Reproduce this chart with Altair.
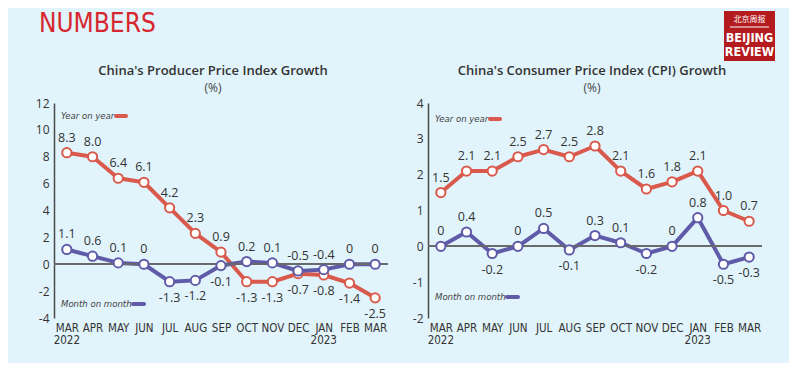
import altair as alt
import pandas as pd

# ---------------- data ----------------
periods = ["Mar 2022", "Apr 2022", "May 2022", "Jun 2022", "Jul 2022", "Aug 2022",
           "Sep 2022", "Oct 2022", "Nov 2022", "Dec 2022", "Jan 2023", "Feb 2023", "Mar 2023"]
month_labels = ["MAR", "APR", "MAY", "JUN", "JUL", "AUG", "SEP", "OCT", "NOV", "DEC", "JAN", "FEB", "MAR"]
year_labels = ["2022", "", "", "", "", "", "", "", "", "", "2023", "", ""]

ppi_yoy = [8.3, 8.0, 6.4, 6.1, 4.2, 2.3, 0.9, -1.3, -1.3, -0.7, -0.8, -1.4, -2.5]
ppi_mom = [1.1, 0.6, 0.1, 0, -1.3, -1.2, -0.1, 0.2, 0.1, -0.5, -0.4, 0, 0]
cpi_yoy = [1.5, 2.1, 2.1, 2.5, 2.7, 2.5, 2.8, 2.1, 1.6, 1.8, 2.1, 1.0, 0.7]
cpi_mom = [0, 0.4, -0.2, 0, 0.5, -0.1, 0.3, 0.1, -0.2, 0, 0.8, -0.5, -0.3]

# label side for each value: "up" = above the point, "down" = below
ppi_yoy_side = ["up"] * 7 + ["down"] * 6
ppi_mom_side = ["up", "up", "up", "up", "down", "down", "down", "up", "up", "up", "up", "up", "up"]
cpi_yoy_side = ["up"] * 13
cpi_mom_side = ["up", "up", "down", "up", "up", "down", "up", "up", "down", "up", "up", "down", "down"]

series_names = ["Year on year", "Month on month"]
series_colors = ["#D95A4C", "#5F5BA8"]

ppi_ticks = [-4, -2, 0, 2, 4, 6, 8, 10, 12]
cpi_ticks = [-2, -1, 0, 1, 2, 3, 4]

ppi_title = "China's Producer Price Index Growth"
cpi_title = "China's Consumer Price Index (CPI) Growth"
unit_label = "(%)"

# ---------------- style ----------------
BG = "#E1F3FB"
TXT = "#333333"
NARROW = "DejaVu Sans Condensed, sans-serif"
SANS = "Open Sans, Noto Sans, sans-serif"
W, H = 334, 215


def fmt(v):
    return "0" if v == 0 else f"{v:.1f}"


def make_df(yoy, mom, yoy_side, mom_side):
    rows = []
    for name, vals, side in ((series_names[0], yoy, yoy_side), (series_names[1], mom, mom_side)):
        for i, p in enumerate(periods):
            rows.append({"period": p, "idx": i, "year": year_labels[i], "series": name,
                         "v": vals[i], "lbl": fmt(vals[i]), "side": side[i]})
    return pd.DataFrame(rows)


def text_mark(txt, x, y, **kw):
    return alt.Chart(pd.DataFrame({"t": [txt]})).mark_text(**kw).encode(
        text="t:N", x=alt.value(x), y=alt.value(y))


def panel(df, domain, ticks, title, title_x, legend_top_y, legend_bot_y, top_dash, bot_dash):
    xs = alt.Scale(type="point", domain=periods, padding=0.5)
    ys = alt.Scale(domain=domain, nice=False, zero=False)
    color = alt.Color("series:N", scale=alt.Scale(domain=series_names, range=series_colors), legend=None)

    base = alt.Chart(df)
    x_enc = alt.X("period:N", scale=xs, sort=periods,
                  axis=alt.Axis(title=None, domain=False, ticks=False, labelAngle=0,
                                labelExpr="upper(substring(datum.value, 0, 3))",
                                labelFont=NARROW, labelFontSize=11.5, labelColor=TXT,
                                labelPadding=4, labelBaseline="top"))
    y_axis = alt.Axis(title=None, values=ticks, grid=False, ticks=False,
                      domain=True, domainColor="#4a4a4a", domainWidth=1.5,
                      labelExpr="toString(datum.value)",
                      labelOverlap=False, labelFlush=False,
                      labelFont=SANS, labelFontSize=12, labelColor=TXT,
                      labelPadding=5)
    y_enc = alt.Y("v:Q", scale=ys, axis=y_axis)

    lines = base.mark_line(strokeWidth=4, strokeJoin="round").encode(
        x=x_enc, y=y_enc, color=color, detail="series:N", order=alt.Order("idx:Q"))

    zero = base.mark_rule(color="#6b6b6b", strokeWidth=1).encode(
        y=alt.Y(datum=0, scale=ys, axis=y_axis), x=alt.value(0), x2=alt.value(W))

    points = base.mark_point(filled=True, fill="white", size=85, strokeWidth=2, opacity=1).encode(
        x=x_enc, y=y_enc,
        stroke=alt.Stroke("series:N", scale=alt.Scale(domain=series_names, range=series_colors), legend=None))

    up = base.transform_filter("datum.side == 'up'").mark_text(
        dy=-15, font=SANS, fontSize=12.5, color=TXT).encode(x=x_enc, y=y_enc, text="lbl:N")
    down = base.transform_filter("datum.side == 'down'").mark_text(
        dy=16, font=SANS, fontSize=12.5, color=TXT).encode(x=x_enc, y=y_enc, text="lbl:N")

    years = base.transform_filter("datum.year != '' && datum.series == 'Year on year'").mark_text(
        font=NARROW, fontSize=11.5, color=TXT, baseline="middle").encode(
        x=x_enc, y=alt.value(H + 23), text="year:N")

    leg_kw = dict(font=NARROW, fontSize=9.5, fontStyle="italic", color="#444", align="left", baseline="middle")
    leg_top = text_mark(series_names[0], 7, legend_top_y, **leg_kw)
    leg_bot = text_mark(series_names[1], 7, legend_bot_y, **leg_kw)
    dash_top = alt.Chart(pd.DataFrame({"t": [0]})).mark_rule(
        strokeWidth=4, strokeCap="round", color=series_colors[0]).encode(
        x=alt.value(top_dash[0]), x2=alt.value(top_dash[1]), y=alt.value(legend_top_y))
    dash_bot = alt.Chart(pd.DataFrame({"t": [0]})).mark_rule(
        strokeWidth=4, strokeCap="round", color=series_colors[1]).encode(
        x=alt.value(bot_dash[0]), x2=alt.value(bot_dash[1]), y=alt.value(legend_bot_y))

    t1 = text_mark(title, title_x, -32, font=SANS, fontSize=13, fontWeight=600, color=TXT, baseline="middle")
    t2 = text_mark(unit_label, title_x, -15, font=SANS, fontSize=12, color="#444", baseline="middle")

    return [lines, zero, points, up, down, years, leg_top, leg_bot, dash_top, dash_bot, t1, t2]


ppi_df = make_df(ppi_yoy, ppi_mom, ppi_yoy_side, ppi_mom_side)
cpi_df = make_df(cpi_yoy, cpi_mom, cpi_yoy_side, cpi_mom_side)

left_layers = panel(ppi_df, [-4, 12], ppi_ticks, ppi_title, 159, 13, 201, (62, 72), (79, 90))
right_layers = panel(cpi_df, [-2, 4], cpi_ticks, cpi_title, 164, 16, 194, (62, 72), (79, 90))

# decorations
numbers = text_mark("NUMBERS", -15, -71, font=NARROW, fontSize=26, color="#D7262E",
                    align="left", baseline="alphabetic")

logo_rect = alt.Chart(pd.DataFrame({"t": [0]})).mark_rect(color="#B31B1F").encode(
    x=alt.value(296), x2=alt.value(347), y=alt.value(-92), y2=alt.value(-42))
logo_cn = text_mark("北京周报", 321.5, -83, font="Noto Sans CJK SC", fontSize=8, color="white", baseline="middle")
logo_line = alt.Chart(pd.DataFrame({"t": [0]})).mark_rule(color="white", strokeWidth=1).encode(
    x=alt.value(302), x2=alt.value(341), y=alt.value(-76))
logo_w1 = text_mark("BEIJING", 321.5, -65, font=NARROW, fontSize=12.5, fontWeight="bold", color="white", baseline="middle")
logo_w2 = text_mark("REVIEW", 321.5, -51, font=NARROW, fontSize=12.5, fontWeight="bold", color="white", baseline="middle")

left = alt.layer(*(left_layers + [numbers])).properties(width=W, height=H)
right = alt.layer(*(right_layers + [logo_rect, logo_cn, logo_line, logo_w1, logo_w2])).properties(width=W, height=H)

chart = alt.hconcat(left, right, spacing=23).resolve_scale(
    x="independent", y="independent", color="independent", stroke="independent"
).properties(
    background=BG,
    padding={"left": 27, "top": 3, "right": 14, "bottom": 16},
).configure_view(stroke=None)

chart.save("out.html", embed_options={"renderer": "svg", "actions": False})
